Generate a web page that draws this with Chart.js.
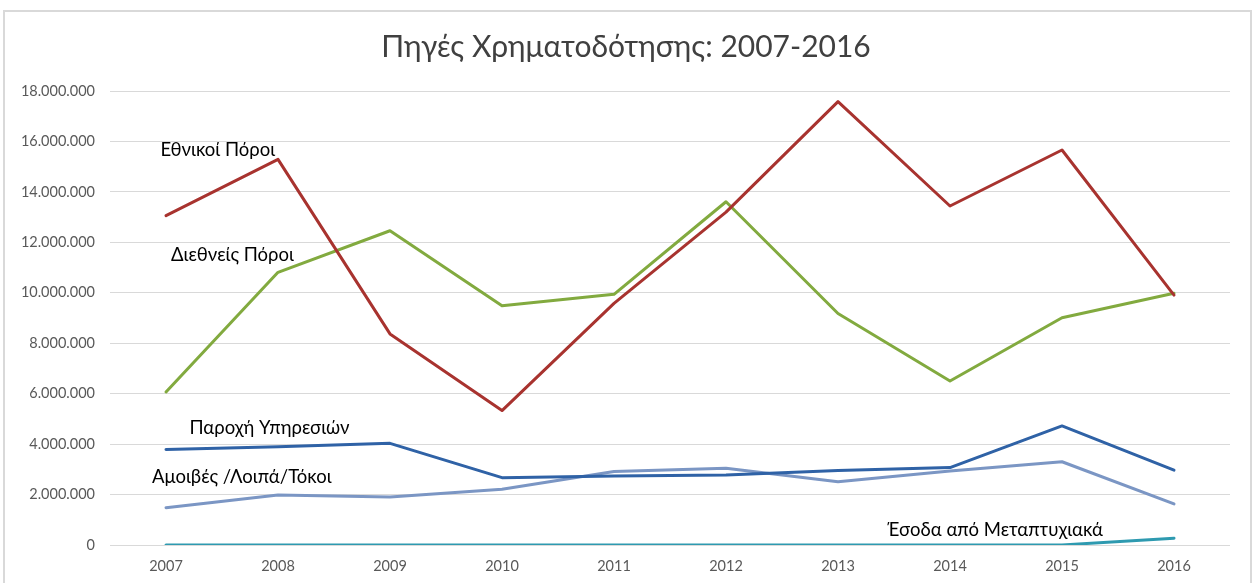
<!DOCTYPE html>
<html>
<head>
<meta charset="utf-8">
<script src="https://cdn.jsdelivr.net/npm/chart.js@4.4.1/dist/chart.umd.min.js"></script>
<style>
  html, body { margin: 0; padding: 0; background: #fff; }
  #wrap { position: relative; width: 1256px; height: 583px; }
</style>
</head>
<body>
<div id="wrap"><canvas id="chart" width="1256" height="583"></canvas></div>
<script>
// Years on the category axis
const years = ['2007', '2008', '2009', '2010', '2011', '2012', '2013', '2014', '2015', '2016'];

// Series values (euros)
const nationalFunds = [13060000, 15290000, 8370000, 5330000, 9580000, 13200000, 17580000, 13440000, 15660000, 9910000];
const internationalFunds = [6070000, 10810000, 12460000, 9490000, 9940000, 13610000, 9180000, 6500000, 9010000, 9980000];
const servicesFunds = [3790000, 3900000, 4030000, 2670000, 2740000, 2780000, 2950000, 3070000, 4720000, 2970000];
const feesOtherInterest = [1480000, 1980000, 1900000, 2210000, 2910000, 3040000, 2510000, 2930000, 3300000, 1630000];
const postgradIncome = [0, 0, 0, 0, 0, 0, 0, 0, 0, 270000];

// Y axis ticks
const yMax = 18000000;
const yStep = 2000000;

const chartTitle = 'Πηγές Χρηματοδότησης: 2007-2016';

// Inline series labels: category index (fractional) for left edge, value for vertical centre
const seriesLabels = [
    { text: 'Εθνικοί Πόροι', x: -0.05, y: 15660000 },
    { text: 'Διεθνείς Πόροι', x: 0.045, y: 11500000 },
    { text: 'Παροχή Υπηρεσιών', x: 0.21, y: 4640000 },
    { text: 'Αμοιβές /Λοιπά/Τόκοι', x: -0.125, y: 2700000 },
    { text: 'Έσοδα από Μεταπτυχιακά', x: 6.44, y: 600000 }
];

const FONT = 'Lato, "Open Sans", sans-serif';

function formatNumber(v) {
    return String(v).replace(/\B(?=(\d{3})+(?!\d))/g, '.');
}

// Draws the frame, the title and the inline labels
const decorPlugin = {
    id: 'decor',
    beforeDraw(chart) {
        const ctx = chart.ctx;
        ctx.save();
        ctx.strokeStyle = '#d9d9d9';
        ctx.lineWidth = 2;
        ctx.strokeRect(4, 11, 1247, 580);
        ctx.fillStyle = '#404040';
        ctx.font = '400 30px ' + FONT;
        ctx.textAlign = 'center';
        ctx.textBaseline = 'middle';
        ctx.fillText(chartTitle, 626, 47);
        ctx.restore();
    },
    afterDatasetsDraw(chart) {
        const ctx = chart.ctx;
        const xs = chart.scales.x;
        const ys = chart.scales.y;
        const step = xs.getPixelForValue(1) - xs.getPixelForValue(0);
        ctx.save();
        ctx.fillStyle = '#000';
        ctx.font = '18.5px ' + FONT;
        ctx.textAlign = 'left';
        ctx.textBaseline = 'middle';
        seriesLabels.forEach(lbl => {
            const px = xs.getPixelForValue(0) + lbl.x * step;
            const py = ys.getPixelForValue(lbl.y);
            ctx.fillText(lbl.text, px, py);
        });
        ctx.restore();
    }
};

function lineSet(label, data, color) {
    return {
        label: label,
        data: data,
        borderColor: color,
        backgroundColor: color,
        borderWidth: 3,
        pointRadius: 0,
        pointHoverRadius: 0,
        tension: 0,
        borderCapStyle: 'round',
        borderJoinStyle: 'round',
        fill: false
    };
}

new Chart(document.getElementById('chart'), {
    type: 'line',
    data: {
        labels: years,
        datasets: [
            lineSet('Εθνικοί Πόροι', nationalFunds, '#A8332F'),
            lineSet('Διεθνείς Πόροι', internationalFunds, '#82AA3F'),
            lineSet('Παροχή Υπηρεσιών', servicesFunds, '#2F62A6'),
            lineSet('Αμοιβές /Λοιπά/Τόκοι', feesOtherInterest, '#7B96C4'),
            lineSet('Έσοδα από Μεταπτυχιακά', postgradIncome, '#2E9AB0')
        ]
    },
    options: {
        responsive: false,
        animation: false,
        layout: { padding: { left: 0, right: 26, top: 91, bottom: 0 } },
        plugins: {
            legend: { display: false },
            title: { display: false },
            tooltip: { enabled: false }
        },
        scales: {
            x: {
                offset: true,
                grid: { display: false, drawTicks: false },
                border: { display: false },
                ticks: {
                    color: '#595959',
                    font: { family: FONT, size: 14.5 },
                    padding: 13,
                    maxRotation: 0
                },
                afterFit(scale) { scale.height = 38; }
            },
            y: {
                min: 0,
                max: yMax,
                grid: { color: '#d9d9d9', lineWidth: 1, drawTicks: false, tickLength: 0 },
                border: { display: false },
                ticks: {
                    stepSize: yStep,
                    color: '#595959',
                    font: { family: FONT, size: 14.5 },
                    padding: 15,
                    callback: v => formatNumber(v)
                },
                afterFit(scale) { scale.width = 110; }
            }
        }
    },
    plugins: [decorPlugin]
});
</script>
</body>
</html>
